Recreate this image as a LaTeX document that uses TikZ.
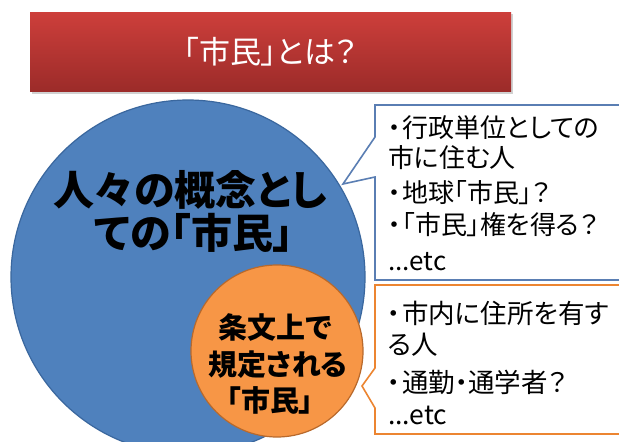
\documentclass[tikz,border=0pt]{standalone}
\usepackage{fontspec}
\setmainfont{Noto Sans CJK JP}[RawFeature=+palt]
\newcommand\nkg{\makebox[16pt][c]{・}}
\definecolor{barTop}{HTML}{CD3F3B}
\definecolor{barBot}{HTML}{9C2B29}
\definecolor{bluefill}{HTML}{4F81BD}
\definecolor{blueline}{HTML}{3A679E}
\definecolor{orfill}{HTML}{F79646}
\definecolor{orline}{HTML}{B8692C}
\definecolor{callB}{HTML}{5A7EB3}
\definecolor{callO}{HTML}{EC8531}
\tikzset{
  bigcirc/.style={circle, inner sep=0pt, fill=bluefill, draw=blueline, line width=1.2pt},
  smallcirc/.style={circle, inner sep=0pt, fill=orfill, draw=orline, line width=1.2pt},
  callblue/.style={draw=callB, line width=1.6pt, fill=white, line join=miter},
  callorange/.style={draw=callO, line width=1.6pt, fill=white, line join=miter},
  cline/.style={anchor=west, inner sep=0pt, font=\fontsize{26}{30}\selectfont},
  cline2/.style={anchor=west, inner sep=0pt, font=\fontsize{26.5}{30}\selectfont},
  bigtxt/.style={font=\bfseries\fontsize{41}{46}\selectfont, inner sep=0pt},
  smalltxt/.style={font=\bfseries\fontsize{29}{34}\selectfont, inner sep=0pt},
}
\begin{document}
\begin{tikzpicture}[x=1pt,y=-1pt]
\useasboundingbox (0,0) rectangle (619,442);
\clip (0,0) rectangle (619,442);
\fill[white] (0,0) rectangle (619,442);
% title bar
\fill[black!18] (32,14) rectangle (513,94);
\node[minimum width=481pt, minimum height=79pt, inner sep=0pt, top color=barTop, bottom color=barBot, draw=none, text=white, font=\fontsize{31}{36}\selectfont] (title) at (270.5,51.5) {「市民」とは？};
% circles
\node[bigcirc, minimum size=354pt] (big) at (188,277) {};
\node[bigtxt] (bigt1) at (190,190) {人々の概念とし};
\node[bigtxt] (bigt2) at (194,233) {ての「市民」};
\node[smallcirc, minimum size=172pt] (small) at (277,351) {};
\node[smalltxt] (st1) at (275,328) {条文上で};
\node[smalltxt] (st2) at (278,365) {規定される};
\node[smalltxt] (st3) at (270,400) {「市民」};
% callout 1
\draw[callblue] (375,105) -- (650,105) -- (650,280) -- (375,280) -- (375,177) -- (343,184) -- (375,137) -- cycle;
\node[cline] (c1a) at (386,128) {\nkg 行政単位としての};
\node[cline] (c1b) at (388,158) {市に住む人};
\node[cline] (c1c) at (386,193) {\nkg 地球「市民」？};
\node[cline] (c1d) at (386,225) {\nkg「市民」権を得る？};
\node[cline] (c1e) at (388,262) {...etc};
% callout 2
\draw[callorange] (375,285) -- (650,285) -- (650,434) -- (375,434) -- (375,408) -- (362,386) -- (375,368) -- cycle;
\node[cline2] (c2a) at (386,313) {\nkg 市内に住所を有す};
\node[cline2] (c2b) at (388,345) {る人};
\node[cline2] (c2c) at (386,382) {\nkg 通勤・通学者？};
\node[cline2] (c2d) at (388,415) {...etc};
\end{tikzpicture}
\end{document}
